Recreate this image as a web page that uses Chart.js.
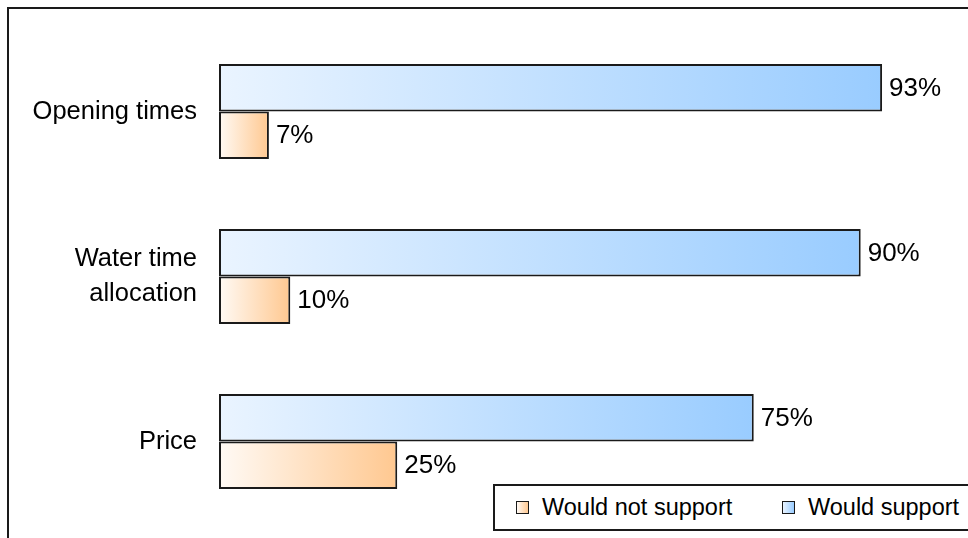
<!DOCTYPE html>
<html>
<head>
<meta charset="utf-8">
<script src="https://cdn.jsdelivr.net/npm/chart.js@4/dist/chart.umd.min.js"></script>
<style>
  html, body { margin: 0; padding: 0; background: #fff; }
  #wrap { position: absolute; left: 0; top: 0; width: 968px; height: 538px; overflow: hidden; }
  #frame { position: absolute; left: 7px; top: 7px; width: 990px; height: 580px; border: 2px solid #1a1a1a; pointer-events: none; }
  #legend {
    position: absolute; left: 493px; top: 484px; width: 500px; height: 43px;
    border: 2px solid #1a1a1a; background: #fff;
    font-family: "Liberation Sans", Arial, sans-serif; font-size: 23.5px; color: #000;
  }
  #legend .item { position: absolute; top: 8px; white-space: nowrap; }
  #legend .sw { display: inline-block; width: 11px; height: 11px; border: 1.5px solid #1a1a1a; margin-right: 13px; vertical-align: 1px; }
</style>
</head>
<body>
<div id="wrap">
  <canvas id="supportChart"></canvas>
  <div id="frame"></div>
  <div id="legend">
    <span class="item" style="left:21px"><span class="sw" style="background:linear-gradient(to right,#fffaf5,#ffc890)"></span>Would not support</span>
    <span class="item" style="left:287px"><span class="sw" style="background:linear-gradient(to right,#eaf4ff,#99ccff)"></span>Would support</span>
  </div>
</div>
<script>
const FONT = '"Liberation Sans", Arial, sans-serif';

const categories = ['Opening times', ['Water time', 'allocation'], 'Price'];
const support    = [93, 90, 75];
const notSupport = [7, 10, 25];

const BLUE   = ['#eaf4ff', '#99ccff'];
const ORANGE = ['#fffaf5', '#ffc890'];

// left-to-right gradient per bar, from the zero line to the bar end
function barFill(stops) {
  return ctx => {
    const chart = ctx.chart;
    if (!chart.chartArea || ctx.type !== 'data') return stops[1];
    const x = chart.scales.x;
    const x0 = x.getPixelForValue(0);
    const x1 = x.getPixelForValue(ctx.raw);
    const g = chart.ctx.createLinearGradient(x0, 0, x1, 0);
    g.addColorStop(0, stops[0]);
    g.addColorStop(1, stops[1]);
    return g;
  };
}

// percent labels just past the end of each bar
const valueLabels = {
  id: 'valueLabels',
  afterDatasetsDraw(chart) {
    const c = chart.ctx;
    c.save();
    c.font = '26px ' + FONT;
    c.fillStyle = '#000';
    c.textAlign = 'left';
    c.textBaseline = 'middle';
    chart.data.datasets.forEach((ds, i) => {
      chart.getDatasetMeta(i).data.forEach((bar, j) => {
        c.fillText(ds.data[j] + '%', bar.x + 7, bar.y + 1);
      });
    });
    c.restore();
  }
};

new Chart('supportChart', {
  type: 'bar',
  data: {
    labels: categories,
    datasets: [
      {
        label: 'Would support',
        data: support,
        backgroundColor: barFill(BLUE),
        borderColor: '#1a1a1a',
        borderWidth: 2,
        borderSkipped: false,
        categoryPercentage: 0.575,
        barPercentage: 1
      },
      {
        label: 'Would not support',
        data: notSupport,
        backgroundColor: barFill(ORANGE),
        borderColor: '#1a1a1a',
        borderWidth: 2,
        borderSkipped: false,
        categoryPercentage: 0.575,
        barPercentage: 1
      }
    ]
  },
  options: {
    indexAxis: 'y',
    responsive: true,
    maintainAspectRatio: false,
    animation: false,
    layout: { padding: { left: 0, right: 36, top: 29, bottom: 14 } },
    plugins: { legend: { display: false }, tooltip: { enabled: false } },
    scales: {
      x: { display: false, min: 0, max: 100 },
      y: {
        grid: { display: false },
        border: { display: false },
        ticks: { color: '#000', padding: 14, font: { family: FONT, size: 25.5, lineHeight: 1.4 } },
        afterFit(scale) {
          scale.width = 219;
          // labels may overhang the plot; keep the category bands full height
          scale.paddingTop = 0;
          scale.paddingBottom = 0;
        }
      }
    }
  },
  plugins: [valueLabels]
});
</script>
</body>
</html>
